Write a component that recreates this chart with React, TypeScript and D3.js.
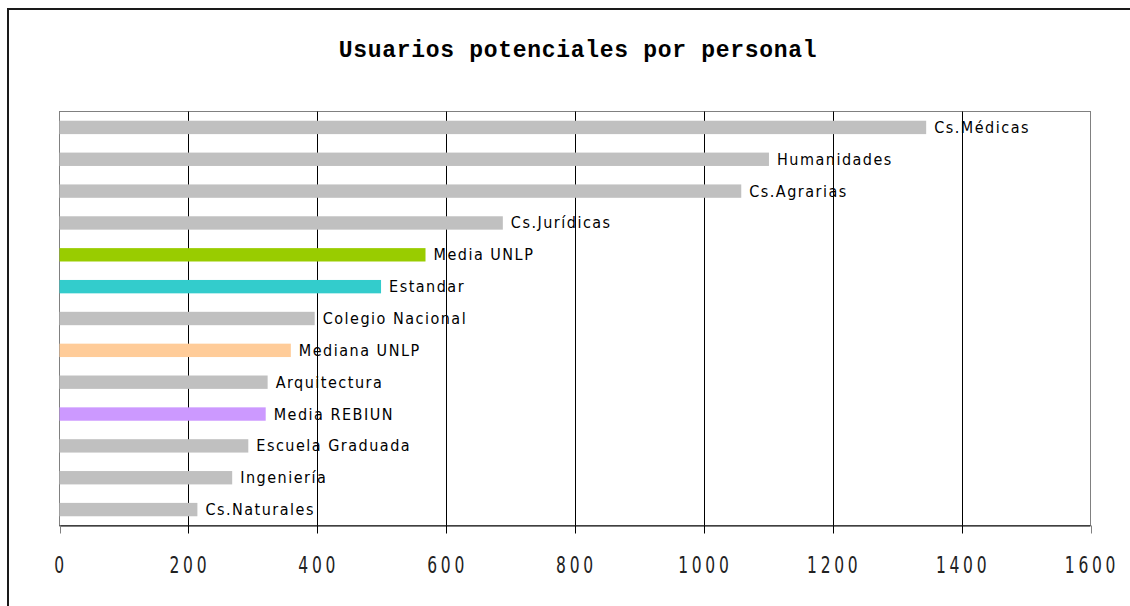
import React from "react";
import * as d3 from "d3";

const categories = [
  "Cs.Médicas",
  "Humanidades",
  "Cs.Agrarias",
  "Cs.Jurídicas",
  "Media UNLP",
  "Estandar",
  "Colegio Nacional",
  "Mediana UNLP",
  "Arquitectura",
  "Media REBIUN",
  "Escuela Graduada",
  "Ingeniería",
  "Cs.Naturales",
];
const values = [1345, 1101, 1058, 688, 568, 499, 396, 359, 323, 320, 293, 268, 214];
const barColors = [
  "#C0C0C0",
  "#C0C0C0",
  "#C0C0C0",
  "#C0C0C0",
  "#99CC00",
  "#33CCCC",
  "#C0C0C0",
  "#FFCC99",
  "#C0C0C0",
  "#CC99FF",
  "#C0C0C0",
  "#C0C0C0",
  "#C0C0C0",
];
const tickValues = [0, 200, 400, 600, 800, 1000, 1200, 1400, 1600];
const title = "Usuarios potenciales por personal";

const W = 1130;
const H = 606;
const plot = { left: 59.5, right: 1090.5, top: 111.5, bottom: 525.5 };
const narrow = "'Liberation Sans Narrow', 'DejaVu Sans Condensed', 'Arial Narrow', sans-serif";

export default function App() {
  const x = d3.scaleLinear().domain([0, 1600]).range([plot.left, plot.right]);
  const y = d3
    .scaleBand<string>()
    .domain(categories)
    .range([plot.top, plot.bottom])
    .paddingInner(0.58)
    .paddingOuter(0.29);

  return (
    <svg
      width={W}
      height={H}
      style={{ position: "absolute", left: 0, top: 0, background: "#fff" }}
    >
      <rect x={0} y={0} width={W} height={H} fill="#fff" />
      {/* outer chart border (only left and top visible) */}
      <rect x={8} y={9} width={W + 20} height={H + 20} fill="none" stroke="#1a1a1a" strokeWidth={2} />
      {/* title */}
      <text
        x={578}
        y={57}
        textAnchor="middle"
        fontFamily="'Liberation Mono', 'DejaVu Sans Mono', monospace"
        fontWeight="bold"
        fontSize={23}
        letterSpacing={0.7}
        fill="#000"
      >
        {title}
      </text>
      {/* plot border */}
      <rect
        x={plot.left}
        y={plot.top}
        width={plot.right - plot.left}
        height={plot.bottom - plot.top}
        fill="#fff"
        stroke="#808080"
        strokeWidth={1}
      />
      {/* gridlines */}
      {tickValues.slice(1, -1).map((t) => (
        <line
          key={"g" + t}
          x1={Math.round(x(t)) + 0.5}
          x2={Math.round(x(t)) + 0.5}
          y1={plot.top}
          y2={plot.bottom}
          stroke="#000"
          strokeWidth={1}
        />
      ))}
      {/* bars */}
      {categories.map((c, i) => (
        <rect
          key={"b" + c}
          x={x(0)}
          y={y(c)!}
          width={x(values[i]) - x(0)}
          height={y.bandwidth()}
          fill={barColors[i]}
        />
      ))}
      {/* bar labels */}
      {categories.map((c, i) => (
        <text
          key={"l" + c}
          x={x(values[i]) + 8}
          y={y(c)! + y.bandwidth() / 2 + 5.5}
          fontFamily={narrow}
          fontSize={16}
          letterSpacing={1.5}
          fill="#000"
        >
          {c}
        </text>
      ))}
      {/* x axis */}
      <line x1={plot.left} x2={plot.right} y1={plot.bottom + 0.5} y2={plot.bottom + 0.5} stroke="#000" strokeWidth={1} />
      {tickValues.map((t, i) => (
        <line
          key={"t" + t}
          x1={Math.round(x(t)) + 0.5}
          x2={Math.round(x(t)) + 0.5}
          y1={plot.bottom}
          y2={plot.bottom + 8}
          stroke={i === 0 || i === tickValues.length - 1 ? "#808080" : "#000"}
          strokeWidth={1}
        />
      ))}
      {tickValues.map((t) => (
        <text
          key={"tl" + t}
          transform={`translate(${x(t) + 1.5},573) scale(0.75,1)`}
          textAnchor="middle"
          fontFamily={narrow}
          fontSize={23}
          letterSpacing={5}
          fill="#222"
        >
          {t}
        </text>
      ))}
    </svg>
  );
}
